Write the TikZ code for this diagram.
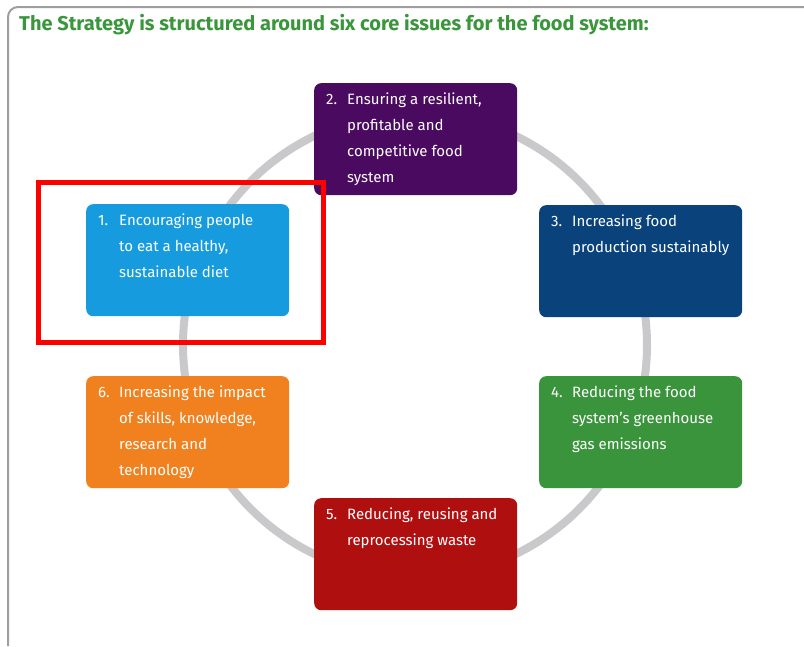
\documentclass[tikz,border=0pt]{standalone}
\usepackage{xcolor}
\usepackage{tikz}
\usetikzlibrary{positioning}
\usepackage{fontspec}
\setmainfont{Fira Sans}

\definecolor{framegray}{RGB}{158,158,158}
\definecolor{ringgray}{RGB}{201,201,203}
\definecolor{titlegreen}{RGB}{58,150,58}
\definecolor{issueone}{RGB}{22,156,222}
\definecolor{issuetwo}{RGB}{74,10,96}
\definecolor{issuethree}{RGB}{10,67,124}
\definecolor{issuefour}{RGB}{58,148,60}
\definecolor{issuefive}{RGB}{176,15,16}
\definecolor{issuesix}{RGB}{241,128,30}

\newcommand{\issuetext}[2]{\parbox[t][106pt][t]{179pt}{\hangindent=21pt\hangafter=1\strut\makebox[21pt][l]{#1}#2}}

\begin{document}
\begin{tikzpicture}[x=1pt,y=-1pt,
		issue/.style={anchor=north west, rounded corners=7pt, text=white,
			inner xsep=12pt, inner ysep=3pt, minimum width=203pt,
			font=\fontsize{15}{26}\selectfont}]
		\useasboundingbox (0,0) rectangle (804,646);

		% Rahmen
		\draw[framegray, line width=2pt, rounded corners=10pt] (8,646) -- (8,7) -- (804,7);
		\node[anchor=west, inner sep=0pt, text=titlegreen, font=\bfseries\fontsize{20}{24}\selectfont]
			(title) at (19,25) {The Strategy is structured around six core issues for the food system:};

		% Ring
		\coordinate (m) at (415,345);
		\draw[ringgray, line width=8pt] (m) circle (232pt);

		% Felder
		\node[issue, fill=issueone] (i1) at (86,204)
			{\issuetext{1.}{Encouraging people\\to eat a healthy,\\sustainable diet}};
		\node[issue, fill=issuetwo] (i2) at (314,83)
			{\issuetext{2.}{Ensuring a resilient,\\profitable and\\competitive food\\system}};
		\node[issue, fill=issuethree] (i3) at (539,205)
			{\issuetext{3.}{Increasing food\\production sustainably}};
		\node[issue, fill=issuefour] (i4) at (539,376)
			{\issuetext{4.}{Reducing the food\\system’s greenhouse\\gas emissions}};
		\node[issue, fill=issuefive] (i5) at (314,498)
			{\issuetext{5.}{Reducing, reusing and\\reprocessing waste}};
		\node[issue, fill=issuesix] (i6) at (86,376)
			{\issuetext{6.}{Increasing the impact\\of skills, knowledge,\\research and\\technology}};

		% Markierung
		\draw[red, line width=5pt] (38,182) rectangle (323,342);
	\end{tikzpicture}
\end{document}
